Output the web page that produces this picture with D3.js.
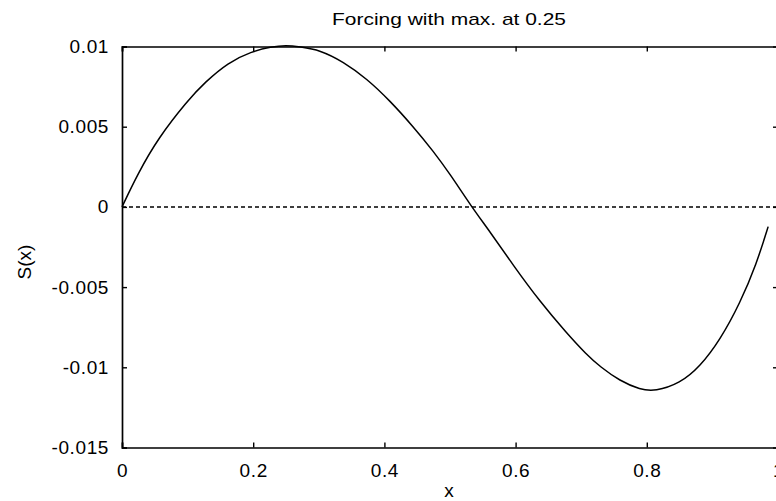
<!DOCTYPE html>
<html>
<head>
<meta charset="utf-8">
<script src="https://cdn.jsdelivr.net/npm/d3@7"></script>
<style>
  html, body { margin: 0; padding: 0; background: #fff; }
  svg { display: block; }
  text { font-family: "Liberation Sans", Arial, Helvetica, sans-serif; fill: #000; }
</style>
</head>
<body>
<svg id="chart" width="776" height="501"></svg>
<script>
// ---- data ----
const title = "Forcing with max. at 0.25";
const xLabel = "x";
const yLabel = "S(x)";
const xTicks = [0, 0.2, 0.4, 0.6, 0.8, 1];
const yTicks = [0.01, 0.005, 0, -0.005, -0.01, -0.015];
const xValues = [0, 0.0244, 0.0549, 0.1006, 0.126, 0.1616, 0.197, 0.2276, 0.25, 0.271, 0.3018, 0.3373, 0.373, 0.4085, 0.444, 0.4745, 0.5, 0.533, 0.561, 0.5965, 0.637, 0.678, 0.708, 0.7287, 0.759, 0.79, 0.8125, 0.8506, 0.881, 0.9116, 0.9421, 0.9675, 0.985];
const sValues = [0, 0.00209, 0.00428, 0.00666, 0.00775, 0.0090, 0.00968, 0.00998, 0.01008, 0.00998, 0.00978, 0.00905, 0.0080, 0.00662, 0.0050, 0.00348, 0.00205, 0, -0.00155, -0.00365, -0.0059, -0.00788, -0.0092, -0.00996, -0.01085, -0.01139, -0.01150, -0.0110, -0.00996, -0.0083, -0.00601, -0.00352, -0.00123];
const zeroLine = [0, 0];
const zeroX = [0, 1];

// ---- layout ----
const svg = d3.select("#chart");
const mLeft = 122, mRight = 778, mTop = 46.5, mBottom = 447.5;
const x = d3.scaleLinear().domain([0, 1]).range([mLeft, mRight]);
const y = d3.scaleLinear().domain([-0.015, 0.01]).range([mBottom, mTop]);
const fmt = d => (d === 0 ? "0" : String(+d.toFixed(3)));

// axes with inward ticks
const axB = svg.append("g").attr("transform", `translate(0,${mBottom})`)
  .call(d3.axisBottom(x).tickValues(xTicks).tickSize(-5).tickPadding(16).tickFormat(fmt));
const axT = svg.append("g").attr("transform", `translate(0,${mTop})`)
  .call(d3.axisTop(x).tickValues(xTicks).tickSize(-5).tickFormat(""));
const axL = svg.append("g").attr("transform", `translate(${mLeft},0)`)
  .call(d3.axisLeft(y).tickValues(yTicks).tickSize(-5).tickPadding(13).tickFormat(fmt));
const axR = svg.append("g").attr("transform", `translate(${mRight},0)`)
  .call(d3.axisRight(y).tickValues(yTicks).tickSize(-5).tickFormat(""));
axR.select(".domain").remove();

[axB, axT, axL, axR].forEach(g => {
  g.select(".domain").attr("stroke", "#000").attr("stroke-width", 1.7);
  g.selectAll(".tick line").attr("stroke", "#000").attr("stroke-width", 1.4);
  g.selectAll(".tick text").attr("font-size", 19).attr("letter-spacing", 0.6).attr("fill", "#000")
    .attr("font-family", '"Liberation Sans", Arial, sans-serif');
});

// zero dashed line
svg.append("path")
  .datum(zeroX.map((d, i) => [d, zeroLine[i]]))
  .attr("fill", "none").attr("stroke", "#000").attr("stroke-width", 1.5)
  .attr("stroke-dasharray", "4,3")
  .attr("d", d3.line().x(d => x(d[0])).y(d => y(d[1])));

// curve
svg.append("path")
  .datum(xValues.map((d, i) => [d, sValues[i]]))
  .attr("fill", "none").attr("stroke", "#000").attr("stroke-width", 1.5)
  .attr("d", d3.line().x(d => x(d[0])).y(d => y(d[1])).curve(d3.curveBasis));

// title & labels
svg.append("text").attr("x", 449).attr("y", 25).attr("text-anchor", "middle")
  .attr("font-size", 17).attr("textLength", 234).attr("lengthAdjust", "spacingAndGlyphs")
  .text(title);
svg.append("text").attr("x", 449).attr("y", 497).attr("text-anchor", "middle")
  .attr("font-size", 19).text(xLabel);
svg.append("text").attr("transform", "translate(31,262) rotate(-90)")
  .attr("text-anchor", "middle").attr("font-size", 19).text(yLabel);
</script>
</body>
</html>
